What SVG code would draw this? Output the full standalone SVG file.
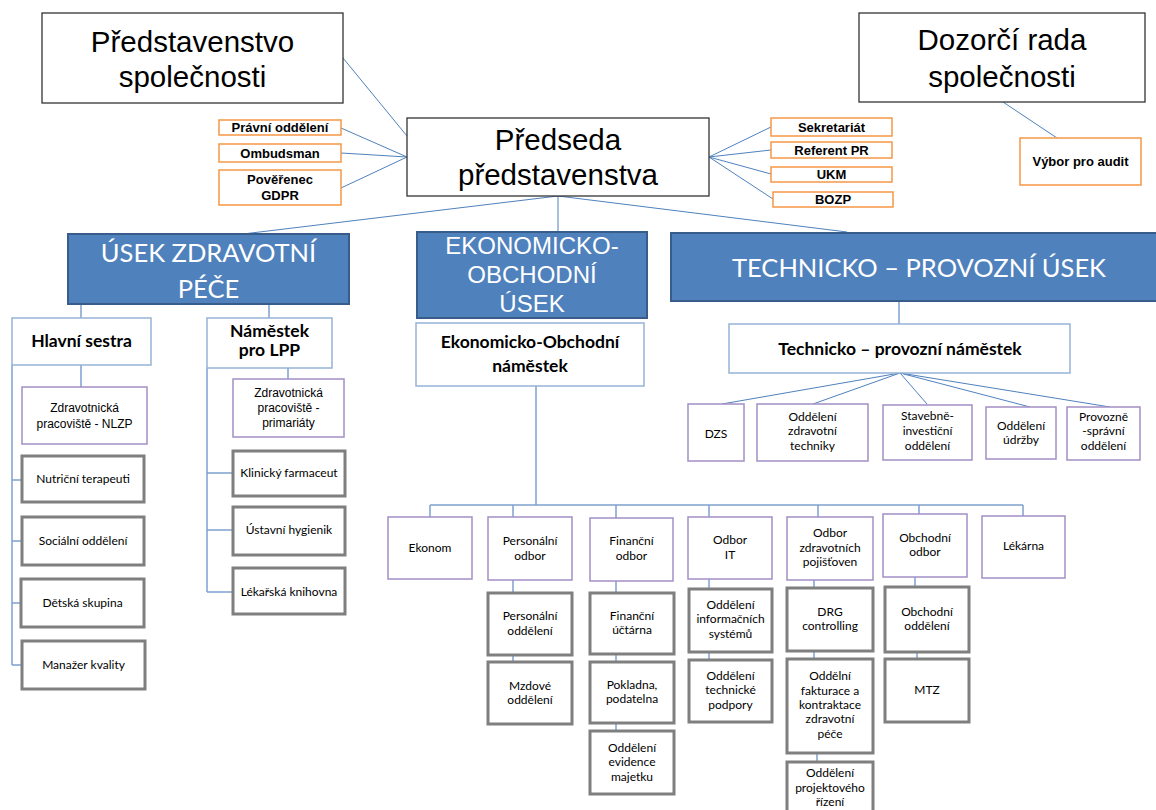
<svg xmlns="http://www.w3.org/2000/svg" width="1156" height="810" viewBox="0 0 1156 810">
<style>
.bk{fill:#fff;stroke:#333;stroke-width:1.3}
.or{fill:#fff;stroke:#F79646;stroke-width:1.5}
.bl{fill:#4F81BD;stroke:#385D8A;stroke-width:2}
.lb{fill:#fff;stroke:#95B3D7;stroke-width:1.5}
.pu{fill:#fff;stroke:#A38FC6;stroke-width:1.5}
.gr{fill:#fff;stroke:#7F7F7F;stroke-width:3}
.h{font-family:"Liberation Sans",Arial,sans-serif;text-anchor:middle;fill:#000}
.c{font-family:Lato,"Liberation Sans",sans-serif;text-anchor:middle;fill:#000}
.big{font-size:29.5px}
.ob{font-size:13px;font-weight:bold}
.w{fill:#fff}
.s12{font-size:12px}
.hb{font-size:17.5px;font-weight:bold}
.ln{fill:none;stroke:#4F81BD;stroke-width:1}
.lv{fill:none;stroke:#7FA1D0;stroke-width:1.5}
</style>
<rect width="1156" height="810" fill="#fff"/>
<g id="connectors">
<path class="ln" d="M343,58L407,136M341,128L407,157M341,153L407,157M341,188L407,157M709,157L771,127M709,157L771,150M709,157L771,174M709,157L773,199M1003,102L1057,138M558,196L243,234M558,196L558,232M558,196L847,232"/>
<path class="lv" d="M81,304V318M269,304V318M81,365V387M12,365V665M12,480H22M12,541H22M12,603H21M12,665H22M288,368V379M207,368V592M207,473H233M207,530H233M207,592H233"/>
<path class="lv" d="M536,386V505M430,505H1023M430,505V517M513,505V517M616,505V518M709,505V517M818,505V517M919,505V514M1023,505V516"/>
<path class="lv" d="M513,580V593M513,655V662M616,581V593M616,654V662M616,723V731M709,579V589M709,652V660M814,580V588M814,651V659M817,753V762M915,577V587M917,652V659"/>
<path class="lv" d="M899,301V324"/>
<path class="ln" d="M900,373L722,404M900,373L813,404M900,373L927,404M900,373L1030,407M900,373L1110,407"/>
<path d="M577,303L588,316" stroke="#3E6BA3" stroke-width="1" opacity="0.6"/>
</g>
<g id="predstavenstvo"><rect class="bk" x="42" y="13" width="301" height="90"/><text class="h big" x="192.5" y="52">Představenstvo</text><text class="h big" x="192.5" y="87">společnosti</text></g>
<g id="predseda"><rect class="bk" x="407" y="118" width="302" height="78"/><text class="h big" x="558" y="150">Předseda</text><text class="h big" x="558" y="185">představenstva</text></g>
<g id="dozorci"><rect class="bk" x="859" y="13" width="286" height="89"/><text class="h big" x="1002" y="50">Dozorčí rada</text><text class="h big" x="1002" y="87">společnosti</text></g>
<g id="pravni"><rect class="or" x="219" y="120" width="122" height="15"/><text class="h ob" x="280" y="132">Právní oddělení</text></g>
<g id="ombudsman"><rect class="or" x="219" y="144" width="122" height="18"/><text class="h ob" x="280" y="157.5">Ombudsman</text></g>
<g id="gdpr"><rect class="or" x="219" y="170" width="122" height="35"/><text class="h ob" x="280" y="184">Pověřenec</text><text class="h ob" x="280" y="200">GDPR</text></g>
<g id="sekretariat"><rect class="or" x="771" y="118" width="121" height="18"/><text class="h ob" x="831.5" y="131.5">Sekretariát</text></g>
<g id="referent"><rect class="or" x="771" y="142" width="121" height="16"/><text class="h ob" x="831.5" y="154.5">Referent PR</text></g>
<g id="ukm"><rect class="or" x="771" y="167" width="121" height="15"/><text class="h ob" x="831.5" y="179">UKM</text></g>
<g id="bozp"><rect class="or" x="773" y="192" width="120" height="15"/><text class="h ob" x="833" y="204">BOZP</text></g>
<g id="vybor"><rect class="or" x="1020" y="138" width="121" height="47"/><text class="h ob" x="1080.5" y="166">Výbor pro audit</text></g>
<g id="usek-zp"><rect class="bl" x="68" y="234" width="281" height="70"/><text class="c w" font-size="25.5" x="208.5" y="262">ÚSEK ZDRAVOTNÍ</text><text class="c w" font-size="25.5" x="208.5" y="298">PÉČE</text></g>
<g id="usek-eo"><rect class="bl" x="417" y="232" width="230" height="86"/><text class="h w" font-size="24" x="532" y="254">EKONOMICKO-</text><text class="h w" font-size="24" x="532" y="283">OBCHODNÍ</text><text class="h w" font-size="24" x="532" y="312">ÚSEK</text></g>
<g id="usek-tp"><rect class="bl" x="671" y="233" width="500" height="68"/><text class="c w" font-size="25.5" x="919" y="277">TECHNICKO – PROVOZNÍ ÚSEK</text></g>
<g id="hlavni-sestra"><rect class="lb" x="12" y="318" width="139" height="47"/><text class="c hb" x="81.5" y="347">Hlavní sestra</text></g>
<g id="namestek-lpp"><rect class="lb" x="207" y="318" width="125" height="50"/><text class="c hb" x="269.5" y="337">Náměstek</text><text class="c hb" x="269.5" y="356">pro LPP</text></g>
<g id="eo-namestek"><rect class="lb" x="416" y="323" width="228" height="63"/><text class="c hb" x="530" y="348">Ekonomicko-Obchodní</text><text class="c hb" x="530" y="372">náměstek</text></g>
<g id="tp-namestek"><rect class="lb" x="729" y="324" width="341" height="49"/><text class="c hb" x="900" y="355">Technicko – provozní náměstek</text></g>
<g id="nlzp"><rect class="pu" x="22" y="387" width="125" height="57"/><text class="h s12" x="84.5" y="412">Zdravotnická</text><text class="h s12" x="84.5" y="428">pracoviště - NLZP</text></g>
<g id="primariaty"><rect class="pu" x="233" y="379" width="111" height="58"/><text class="h s12" x="288.5" y="397">Zdravotnická</text><text class="h s12" x="288.5" y="412">pracoviště -</text><text class="h s12" x="288.5" y="427">primariáty</text></g>
<g id="nutricni"><rect class="gr" x="22" y="456" width="122" height="46"/><text class="c s12" x="83" y="483">Nutriční terapeuti</text></g>
<g id="socialni"><rect class="gr" x="22" y="517" width="122" height="48"/><text class="c s12" x="83" y="545">Sociální oddělení</text></g>
<g id="detska"><rect class="gr" x="21" y="579" width="123" height="48"/><text class="c s12" x="82.5" y="607">Dětská skupina</text></g>
<g id="manazer"><rect class="gr" x="22" y="641" width="123" height="48"/><text class="c s12" x="83.5" y="669">Manažer kvality</text></g>
<g id="klinicky"><rect class="gr" x="233" y="451" width="112" height="45"/><text class="c s12" x="289" y="477">Klinický farmaceut</text></g>
<g id="ustavni"><rect class="gr" x="233" y="507" width="112" height="48"/><text class="c s12" x="289" y="534">Ústavní hygienik</text></g>
<g id="lekarska"><rect class="gr" x="233" y="568" width="112" height="46"/><text class="c s12" x="289" y="596">Lékařská knihovna</text></g>
<g id="dzs"><rect class="pu" x="688" y="404" width="56" height="57"/><text class="c s12" x="716" y="438">DZS</text></g>
<g id="ozt"><rect class="pu" x="757" y="404" width="111" height="57"/><text class="c s12" x="812.5" y="421">Oddělení</text><text class="c s12" x="812.5" y="435">zdravotní</text><text class="c s12" x="812.5" y="450">techniky</text></g>
<g id="stavebne"><rect class="pu" x="883" y="405" width="89" height="55"/><text class="c s12" x="927.5" y="420">Stavebně-</text><text class="c s12" x="927.5" y="435">investiční</text><text class="c s12" x="927.5" y="450">oddělení</text></g>
<g id="udrzba"><rect class="pu" x="986" y="407" width="70" height="52"/><text class="c s12" x="1021" y="430">Oddělení</text><text class="c s12" x="1021" y="444">údržby</text></g>
<g id="provozne"><rect class="pu" x="1067" y="407" width="73" height="53"/><text class="c s12" x="1103.5" y="421">Provozně</text><text class="c s12" x="1103.5" y="435">-správní</text><text class="c s12" x="1103.5" y="450">oddělení</text></g>
<g id="ekonom"><rect class="pu" x="388" y="517" width="84" height="62"/><text class="c s12" x="430" y="552">Ekonom</text></g>
<g id="personalni-odbor"><rect class="pu" x="488" y="517" width="84" height="63"/><text class="c s12" x="530" y="545">Personální</text><text class="c s12" x="530" y="560">odbor</text></g>
<g id="financni-odbor"><rect class="pu" x="590" y="518" width="83" height="63"/><text class="c s12" x="631.5" y="545">Finanční</text><text class="c s12" x="631.5" y="560">odbor</text></g>
<g id="odbor-it"><rect class="pu" x="688" y="517" width="84" height="62"/><text class="c s12" x="730" y="544">Odbor</text><text class="c s12" x="730" y="559">IT</text></g>
<g id="ozp"><rect class="pu" x="787" y="517" width="86" height="63"/><text class="c s12" x="830" y="537">Odbor</text><text class="c s12" x="830" y="552">zdravotních</text><text class="c s12" x="830" y="566">pojišťoven</text></g>
<g id="obchodni-odbor"><rect class="pu" x="883" y="514" width="84" height="63"/><text class="c s12" x="925" y="542">Obchodní</text><text class="c s12" x="925" y="556">odbor</text></g>
<g id="lekarna"><rect class="pu" x="982" y="516" width="83" height="62"/><text class="c s12" x="1023.5" y="550">Lékárna</text></g>
<g id="personalni-oddeleni"><rect class="gr" x="488" y="593" width="84" height="62"/><text class="c s12" x="530" y="620">Personální</text><text class="c s12" x="530" y="635">oddělení</text></g>
<g id="mzdove"><rect class="gr" x="488" y="662" width="84" height="62"/><text class="c s12" x="530" y="690">Mzdové</text><text class="c s12" x="530" y="704">oddělení</text></g>
<g id="uctarna"><rect class="gr" x="590" y="593" width="84" height="61"/><text class="c s12" x="632" y="620">Finanční</text><text class="c s12" x="632" y="634">účtárna</text></g>
<g id="pokladna"><rect class="gr" x="590" y="662" width="84" height="61"/><text class="c s12" x="632" y="689">Pokladna,</text><text class="c s12" x="632" y="703">podatelna</text></g>
<g id="evidence"><rect class="gr" x="590" y="731" width="84" height="63"/><text class="c s12" x="632" y="752">Oddělení</text><text class="c s12" x="632" y="766">evidence</text><text class="c s12" x="632" y="781">majetku</text></g>
<g id="ois"><rect class="gr" x="689" y="589" width="83" height="63"/><text class="c s12" x="730.5" y="609">Oddělení</text><text class="c s12" x="730.5" y="623">informačních</text><text class="c s12" x="730.5" y="638">systémů</text></g>
<g id="otp"><rect class="gr" x="689" y="660" width="83" height="62"/><text class="c s12" x="730.5" y="680">Oddělení</text><text class="c s12" x="730.5" y="694">technické</text><text class="c s12" x="730.5" y="709">podpory</text></g>
<g id="drg"><rect class="gr" x="787" y="588" width="86" height="63"/><text class="c s12" x="830" y="616">DRG</text><text class="c s12" x="830" y="630">controlling</text></g>
<g id="fakturace"><rect class="gr" x="787" y="659" width="86" height="94"/><text class="c s12" x="830" y="680">Oddělní</text><text class="c s12" x="830" y="695">fakturace a</text><text class="c s12" x="830" y="709">kontraktace</text><text class="c s12" x="830" y="723">zdravotní</text><text class="c s12" x="830" y="738">péče</text></g>
<g id="projektove"><rect class="gr" x="787" y="762" width="86" height="60"/><text class="c s12" x="830" y="777">Oddělení</text><text class="c s12" x="830" y="792">projektového</text><text class="c s12" x="830" y="806">řízení</text></g>
<g id="obchodni-oddeleni"><rect class="gr" x="885" y="587" width="84" height="65"/><text class="c s12" x="927" y="616">Obchodní</text><text class="c s12" x="927" y="630">oddělení</text></g>
<g id="mtz"><rect class="gr" x="885" y="659" width="84" height="63"/><text class="c s12" x="927" y="694">MTZ</text></g>
</svg>
